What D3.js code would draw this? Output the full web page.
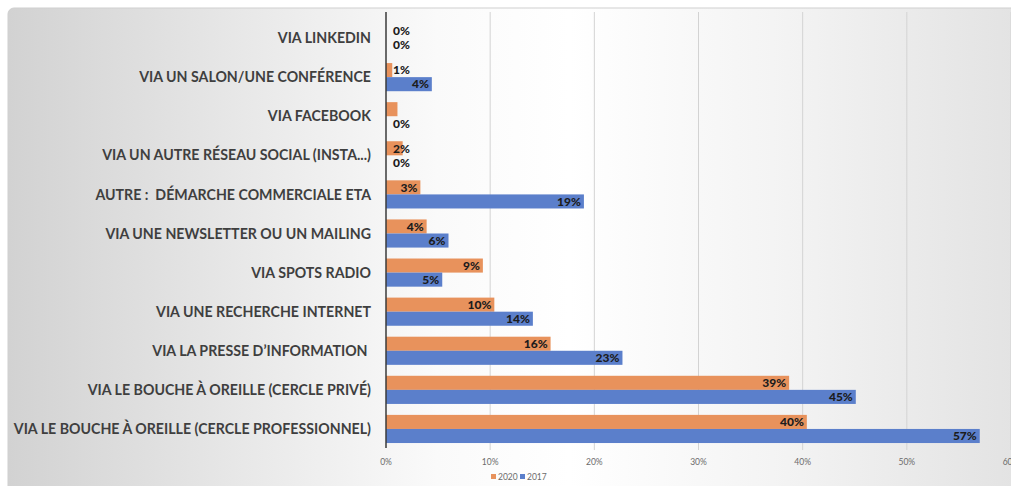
<!DOCTYPE html>
<html>
<head>
<meta charset="utf-8">
<script src="https://cdn.jsdelivr.net/npm/d3@7"></script>
<style>
html,body{margin:0;padding:0;background:#fff;overflow:hidden;}
svg{display:block;font-family:Lato,"Open Sans",sans-serif;}
text{white-space:pre;}
</style>
</head>
<body>
<svg id="chart" width="1011" height="486"></svg>
<script>
const categories = [
  "VIA LINKEDIN",
  "VIA UN SALON/UNE CONFÉRENCE",
  "VIA FACEBOOK",
  "VIA UN AUTRE RÉSEAU SOCIAL (INSTA...)",
  "AUTRE :  DÉMARCHE COMMERCIALE ETA",
  "VIA UNE NEWSLETTER OU UN MAILING",
  "VIA SPOTS RADIO",
  "VIA UNE RECHERCHE INTERNET",
  "VIA LA PRESSE D\u2019INFORMATION ",
  "VIA LE BOUCHE À OREILLE (CERCLE PRIVÉ)",
  "VIA LE BOUCHE À OREILLE (CERCLE PROFESSIONNEL)"
];
const seriesNames = ["2020", "2017"];
const values2020 = [0, 0.6, 1.1, 1.6, 3.3, 3.9, 9.3, 10.4, 15.8, 38.7, 40.4];
const values2017 = [0, 4.4, 0, 0, 19.0, 6.0, 5.4, 14.1, 22.7, 45.1, 57.0];
const labels2020 = ["0%", "1%", "", "2%", "3%", "4%", "9%", "10%", "16%", "39%", "40%"];
const labels2017 = ["0%", "4%", "0%", "0%", "19%", "6%", "5%", "14%", "23%", "45%", "57%"];
const tickValues = [0, 10, 20, 30, 40, 50, 60];
const tickLabels = ["0%", "10%", "20%", "30%", "40%", "50%", "60%"];
const colors = ["#E8925C", "#5B7FCB"];

const svg = d3.select("#chart");
const defs = svg.append("defs");
const grad = defs.append("linearGradient").attr("id", "bg").attr("x1", "0").attr("x2", "1").attr("y1", "0").attr("y2", "0");
[[0, "#d2d2d2"], [0.42, "#fafafa"], [0.55, "#ffffff"], [0.75, "#f4f4f4"], [1, "#e2e2e2"]].forEach(s =>
  grad.append("stop").attr("offset", s[0]).attr("stop-color", s[1]));

svg.append("rect").attr("x", 8).attr("y", 8).attr("width", 1020).attr("height", 500).attr("rx", 6)
  .attr("fill", "url(#bg)").attr("stroke", "#cfcfcf").attr("stroke-width", 1);

const x = d3.scaleLinear().domain([0, 60]).range([386, 1011]);
const y = d3.scaleBand().domain(categories).range([18.5, 448.5]).paddingInner(0.28).paddingOuter(0.14);
const sub = d3.scaleBand().domain(seriesNames).range([0, y.bandwidth()]);

// gridlines
const grid = svg.append("g");
grid.selectAll("line").data(tickValues.slice(1)).join("line")
  .attr("x1", d => x(d)).attr("x2", d => x(d)).attr("y1", 12).attr("y2", 450)
  .attr("stroke", "#d3d3d3").attr("stroke-width", 1);

// x tick labels
svg.append("g").selectAll("text").data(tickValues).join("text")
  .attr("x", d => x(d)).attr("y", 465).attr("text-anchor", "middle")
  .attr("font-size", 8.5).attr("fill", "#6b6b6b")
  .text((d, i) => tickLabels[i]);

// bars
const rows = categories.map((c, i) => ({c, i}));
const series = [
  {name: seriesNames[0], vals: values2020, labels: labels2020, color: colors[0]},
  {name: seriesNames[1], vals: values2017, labels: labels2017, color: colors[1]}
];
series.forEach(s => {
  const g = svg.append("g");
  g.selectAll("rect").data(rows).join("rect")
    .attr("x", x(0)).attr("y", d => y(d.c) + sub(s.name))
    .attr("width", d => x(s.vals[d.i]) - x(0)).attr("height", sub.bandwidth())
    .attr("fill", s.color);
});
series.forEach(s => {
  const g = svg.append("g");
  g.selectAll("text").data(rows).join("text")
    .attr("y", d => y(d.c) + sub(s.name) + sub.bandwidth() / 2)
    .attr("dy", "0.36em").attr("text-anchor", "end")
    .attr("font-size", 12).attr("font-weight", 900).attr("fill", "#1c1c1c")
    .text(d => s.labels[d.i])
    .each(function(d) {
      const w = this.getComputedTextLength();
      const end = Math.max(x(s.vals[d.i]) - 3, x(0) + 7 + w);
      d3.select(this).attr("x", end);
    });
});

// axis line
svg.append("line").attr("x1", x(0)).attr("x2", x(0)).attr("y1", 12).attr("y2", 448)
  .attr("stroke", "#3a3a3a").attr("stroke-width", 1.5);

// category labels
svg.append("g").selectAll("text").data(categories).join("text")
  .attr("x", 371).attr("y", d => y(d) + y.bandwidth() / 2).attr("dy", "0.36em")
  .attr("text-anchor", "end").attr("font-size", 14.2).attr("font-weight", 700).attr("fill", "#3f3f3f")
  .text(d => d);

// legend
const leg = svg.append("g").attr("transform", "translate(491,477)");
series.forEach((s, i) => {
  const gx = i * 29;
  leg.append("rect").attr("x", gx).attr("y", -3).attr("width", 5).attr("height", 5).attr("fill", s.color);
  leg.append("text").attr("x", gx + 7).attr("y", 0).attr("dy", "0.35em").attr("font-size", 8.5)
    .attr("fill", "#6b6b6b").text(s.name);
});
</script>
</body>
</html>
